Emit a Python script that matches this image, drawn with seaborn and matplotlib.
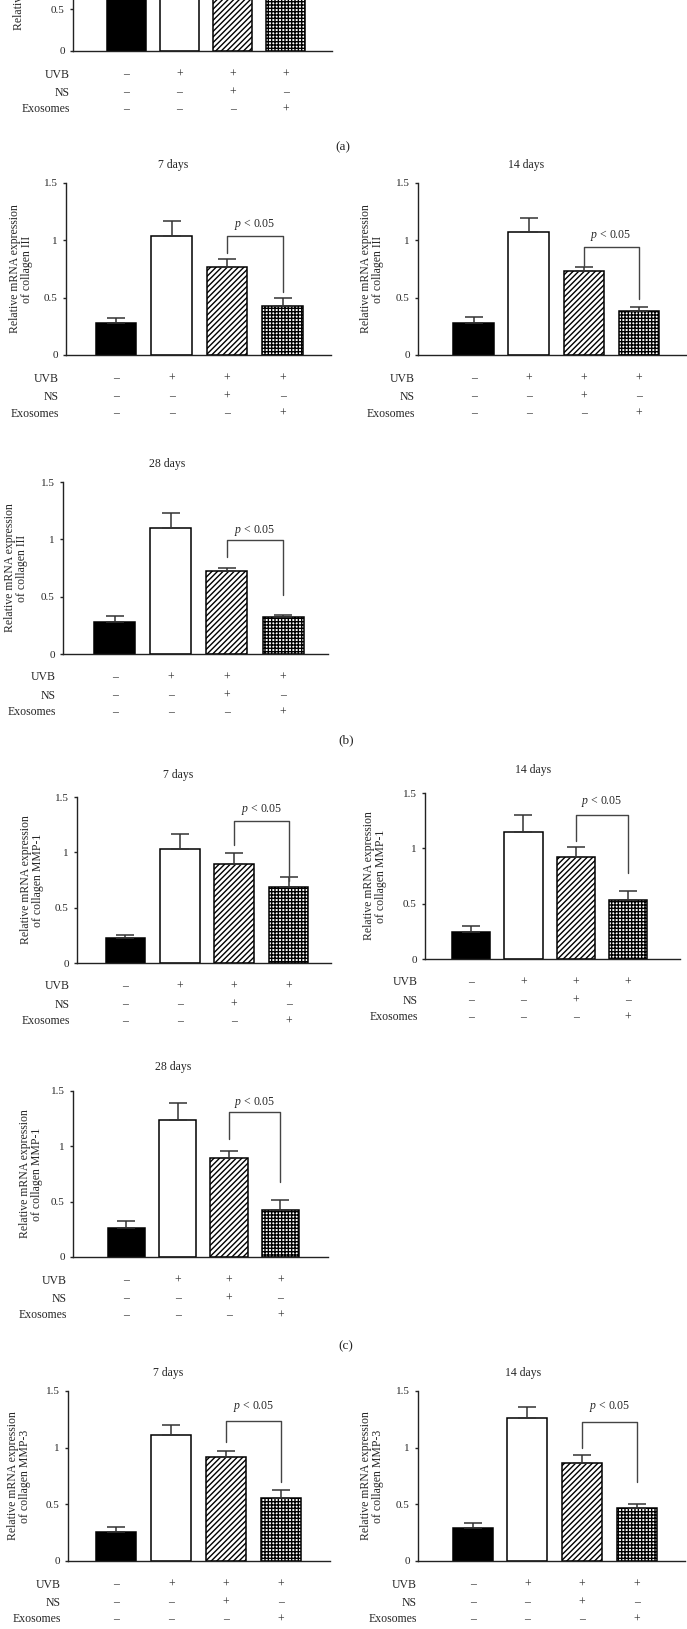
import matplotlib
matplotlib.use("Agg")
import matplotlib.pyplot as plt
import matplotlib.transforms as mtransforms
import numpy as np
import pandas as pd
import seaborn as sns

W, H = 687, 1629

groups = ["Control", "UVB", "UVB + NS", "UVB + Exosomes"]
row_names = ["UVB", "NS", "Exosomes"]
uvb_signs = ["–", "+", "+", "+"]
ns_signs = ["–", "–", "+", "–"]
exo_signs = ["–", "–", "–", "+"]

# (a) collagen I, only the bottom of the panel is visible
col1_mean = [1.00, 0.70, 0.80, 0.90]
col1_sem = [0.05, 0.05, 0.05, 0.05]

# (b) collagen III
col3_7d_mean = [0.275, 1.04, 0.77, 0.43]
col3_7d_sem = [0.045, 0.13, 0.065, 0.07]
col3_14d_mean = [0.275, 1.07, 0.735, 0.385]
col3_14d_sem = [0.06, 0.125, 0.035, 0.035]
col3_28d_mean = [0.28, 1.10, 0.72, 0.32]
col3_28d_sem = [0.055, 0.13, 0.032, 0.024]

# (c) MMP-1
mmp1_7d_mean = [0.223, 1.03, 0.898, 0.687]
mmp1_7d_sem = [0.03, 0.133, 0.10, 0.09]
mmp1_14d_mean = [0.246, 1.15, 0.924, 0.534]
mmp1_14d_sem = [0.048, 0.15, 0.084, 0.081]
mmp1_28d_mean = [0.262, 1.235, 0.895, 0.428]
mmp1_28d_sem = [0.06, 0.157, 0.063, 0.084]

# (d) MMP-3
mmp3_7d_mean = [0.259, 1.112, 0.918, 0.559]
mmp3_7d_sem = [0.038, 0.085, 0.056, 0.067]
mmp3_14d_mean = [0.294, 1.259, 0.862, 0.465]
mmp3_14d_sem = [0.038, 0.097, 0.073, 0.035]

# significance brackets: top, left leg end, right leg end, text height
bracket_col3_7d = [1.039, 0.893, 0.551, 1.14]
bracket_col3_14d = [0.94, 0.776, 0.487, 1.04]
bracket_col3_28d = [0.996, 0.85, 0.516, 1.08]
bracket_mmp1_7d = [1.28, 1.069, 0.738, 1.386]
bracket_mmp1_14d = [1.305, 1.068, 0.78, 1.42]
bracket_mmp1_28d = [1.31, 1.069, 0.678, 1.40]
bracket_mmp3_7d = [1.238, 1.053, 0.70, 1.365]
bracket_mmp3_14d = [1.224, 0.994, 0.70, 1.36]

label_col1 = "Relative mRNA expression\nof collagen I"
label_col3 = "Relative mRNA expression\nof collagen III"
label_mmp1 = "Relative mRNA expression\nof collagen MMP-1"
label_mmp3 = "Relative mRNA expression\nof collagen MMP-3"

fills = ["black", "white", "white", "white"]
hatches = [None, None, "//////", "+++++"]

sns.set_style("ticks")
plt.rcParams["font.family"] = ["Liberation Serif", "DejaVu Serif"]
plt.rcParams["mathtext.fontset"] = "custom"
plt.rcParams["mathtext.it"] = "Liberation Serif:italic"
plt.rcParams["mathtext.rm"] = "Liberation Serif"
plt.rcParams["hatch.linewidth"] = 1.0
plt.rcParams["axes.linewidth"] = 1.0

fig = plt.figure(figsize=(W / 100, H / 100), dpi=100)

# pixel layout: x0, x1, y(0), y(1.5), xlim, row label x, ylabel x, title xy
panels = [
    dict(mean=col1_mean, sem=col1_sem, br=None, ylabel=label_col1, title=None,
         box=(73, 332, 51, -74), xlim=(-1.0, 3.87), lab_x=70, yl_x=25, yl_y=0.68, title_xy=None),
    dict(mean=col3_7d_mean, sem=col3_7d_sem, br=bracket_col3_7d, ylabel=label_col3, title="7 days",
         box=(66, 331, 355, 183), xlim=(-0.9, 3.87), lab_x=59, yl_x=21, yl_y=0.5, title_xy=(173, 165)),
    dict(mean=col3_14d_mean, sem=col3_14d_sem, br=bracket_col3_14d, ylabel=label_col3, title="14 days",
         box=(418, 687, 355, 183), xlim=(-1.01, 3.88), lab_x=415, yl_x=372, yl_y=0.5, title_xy=(526, 165)),
    dict(mean=col3_28d_mean, sem=col3_28d_sem, br=bracket_col3_28d, ylabel=label_col3, title="28 days",
         box=(63, 328, 654, 482), xlim=(-0.92, 3.8), lab_x=56, yl_x=16, yl_y=0.5, title_xy=(167, 464)),
    dict(mean=mmp1_7d_mean, sem=mmp1_7d_sem, br=bracket_mmp1_7d, ylabel=label_mmp1, title="7 days",
         box=(77, 331, 963, 797), xlim=(-0.89, 3.78), lab_x=70, yl_x=32, yl_y=0.5, title_xy=(178, 775)),
    dict(mean=mmp1_14d_mean, sem=mmp1_14d_sem, br=bracket_mmp1_14d, ylabel=label_mmp1, title="14 days",
         box=(425, 680, 959, 793), xlim=(-0.88, 3.99), lab_x=418, yl_x=375, yl_y=0.5, title_xy=(533, 770)),
    dict(mean=mmp1_28d_mean, sem=mmp1_28d_sem, br=bracket_mmp1_28d, ylabel=label_mmp1, title="28 days",
         box=(73, 328, 1257, 1091), xlim=(-1.04, 3.93), lab_x=67, yl_x=31, yl_y=0.5, title_xy=(173, 1067)),
    dict(mean=mmp3_7d_mean, sem=mmp3_7d_sem, br=bracket_mmp3_7d, ylabel=label_mmp3, title="7 days",
         box=(68, 330, 1561, 1391), xlim=(-0.88, 3.89), lab_x=61, yl_x=19, yl_y=0.5, title_xy=(168, 1373)),
    dict(mean=mmp3_14d_mean, sem=mmp3_14d_sem, br=bracket_mmp3_14d, ylabel=label_mmp3, title="14 days",
         box=(418, 685, 1561, 1391), xlim=(-1.0, 3.88), lab_x=417, yl_x=372, yl_y=0.5, title_xy=(523, 1373)),
]

row_offsets = [23.5, 41.5, 58.5]
fs = 8.5

for p in panels:
    x0, x1, yb, yt = p["box"]
    ax = fig.add_axes([x0 / W, 1 - yb / H, (x1 - x0) / W, (yb - yt) / H])

    df = pd.DataFrame({"group": groups, "value": p["mean"]})
    sns.barplot(data=df, x="group", y="value", ax=ax, width=0.73, color="white",
                edgecolor="black", linewidth=1.1, errorbar=None, saturation=1)
    for patch, fc, h in zip(ax.patches, fills, hatches):
        patch.set_facecolor(fc)
        if h:
            patch.set_hatch(h)

    sem = np.array(p["sem"])
    ax.errorbar(np.arange(4), p["mean"], yerr=[np.zeros(4), sem], fmt="none",
                ecolor="#333333", elinewidth=1.1, capsize=6.5, capthick=1.1)

    if p["br"] is not None:
        top, lft, rgt, ty = p["br"]
        ax.plot([2, 2, 3, 3], [lft, top, top, rgt], color="#444444", lw=1.0, clip_on=False)
        ax.text(2.5, ty, "$p$ < 0.05", ha="center", va="center", fontsize=fs)

    ax.set_xlim(*p["xlim"])
    ax.set_ylim(0, 1.5)
    ax.set_yticks([0, 0.5, 1, 1.5])
    ax.set_yticklabels(["0", "0.5", "1", "1.5"])
    ax.set_xticks([])
    ax.set_xlabel("")
    ax.set_ylabel(p["ylabel"], fontsize=fs, linespacing=1.1, va="center")
    ax.yaxis.set_label_coords((p["yl_x"] - x0) / (x1 - x0), p["yl_y"])
    ax.tick_params(axis="y", length=2.5, width=1.0, labelsize=8, pad=3.5)
    sns.despine(ax=ax)
    ax.spines["left"].set_color("#222222")
    ax.spines["bottom"].set_color("#222222")

    if p["title"]:
        fig.text(p["title_xy"][0] / W, 1 - p["title_xy"][1] / H, p["title"],
                 ha="center", va="center", fontsize=fs)

    trans = mtransforms.blended_transform_factory(ax.transData, fig.transFigure)
    for k, signs in enumerate([uvb_signs, ns_signs, exo_signs]):
        yy = 1 - (yb + row_offsets[k]) / H
        for i, s in enumerate(signs):
            ax.text(i, yy, s, transform=trans, ha="center", va="center", fontsize=fs, color="#333333")
        fig.text(p["lab_x"] / W, yy, row_names[k], ha="right", va="center", fontsize=fs)

for lab, (lx, ly) in zip(["(a)", "(b)", "(c)"], [(343, 147), (346, 740), (346, 1346)]):
    fig.text(lx / W, 1 - ly / H, lab, ha="center", va="center", fontsize=9.5)

fig.savefig("out.png", dpi=100)
plt.close(fig)
